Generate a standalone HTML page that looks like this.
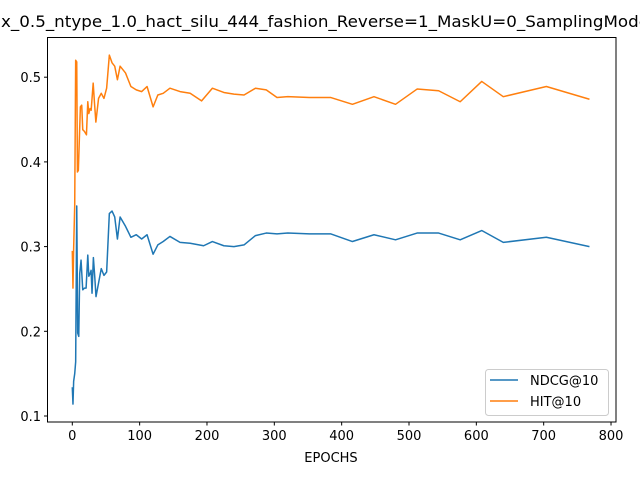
<!DOCTYPE html>
<html><head><meta charset="utf-8"><style>
html,body{margin:0;padding:0;background:#fff;}
svg{display:block;font-family:"DejaVu Sans","Liberation Sans",sans-serif;}
</style></head><body>
<svg id="chart" width="640" height="480" viewBox="0 0 640 480" xmlns="http://www.w3.org/2000/svg">
<rect width="640" height="480" fill="#fff"/>
<text x="1" y="27" font-size="16" textLength="648" lengthAdjust="spacingAndGlyphs">x_0.5_ntype_1.0_hact_silu_444_fashion_Reverse=1_MaskU=0_SamplingMode</text>
<g id="plot"></g>
<rect x="47.5" y="37.5" width="568.5" height="384.5" fill="none" stroke="#000" stroke-width="1"/>
<g id="xticks"></g><g id="yticks"></g>
<text x="331" y="462" font-size="13" text-anchor="middle">EPOCHS</text>
<g>
<rect x="485.5" y="369.5" width="123" height="46" rx="3" fill="#fff" fill-opacity="0.8" stroke="#ccc"/>
<g><line x1="490" y1="380" x2="518" y2="380" stroke="#1f77b4" stroke-width="1.5"/><text x="530" y="385" font-size="13">NDCG@10</text></g>
<g><line x1="490" y1="401" x2="518" y2="401" stroke="#ff7f0e" stroke-width="1.5"/><text x="530" y="406" font-size="13">HIT@10</text></g>
</g>
</svg>
<script>
const ndcgEpochs=[0,1,2,3.6,5,6.6,8,9.6,11,13,15.5,18,20.5,23,24.5,26.4,27.9,29.3,31.3,33.3,35.2,39,43,47,51,55,59,63,67,71,79,87,95,103,111,120,127,135,145,160,175,195,208,225,240,255,272,288,304,320,352,384,416,448,480,512,544,576,608,640,704,768];
const ndcgValues=[0.134,0.114,0.141,0.150,0.164,0.348,0.198,0.194,0.268,0.284,0.249,0.251,0.251,0.290,0.265,0.268,0.272,0.245,0.287,0.265,0.241,0.257,0.274,0.266,0.270,0.339,0.342,0.335,0.309,0.335,0.324,0.311,0.314,0.309,0.314,0.291,0.302,0.306,0.312,0.305,0.304,0.301,0.306,0.301,0.300,0.302,0.313,0.316,0.315,0.316,0.315,0.315,0.306,0.314,0.308,0.316,0.316,0.308,0.319,0.305,0.311,0.300];
const hitEpochs=[0,1,2,3.6,5,6.6,7.6,9,12,14,15.5,18,21,23,24.5,26.4,28,31,33,35,39,43,47,51,55,59,63,67,71,79,87,95,103,111,120,127,135,145,160,175,192,208,225,240,255,272,288,304,320,352,384,416,448,480,512,544,576,608,640,704,768];
const hitValues=[0.295,0.251,0.298,0.349,0.520,0.518,0.388,0.390,0.465,0.467,0.438,0.436,0.432,0.471,0.457,0.463,0.461,0.493,0.469,0.447,0.475,0.481,0.475,0.487,0.526,0.517,0.513,0.497,0.513,0.505,0.489,0.485,0.483,0.489,0.465,0.479,0.481,0.487,0.483,0.481,0.472,0.487,0.482,0.480,0.479,0.487,0.485,0.476,0.477,0.476,0.476,0.468,0.477,0.468,0.486,0.484,0.471,0.495,0.477,0.489,0.474];
const xTickLabels=["0","100","200","300","400","500","600","700","800"];
const yTickLabels=["0.1","0.2","0.3","0.4","0.5"];
const NS="http://www.w3.org/2000/svg";
function xs(e){return 72.3+e*0.6734;}
function ys(v){return 416-(v-0.1)*847;}
function mk(t,a,p){const el=document.createElementNS(NS,t);for(const k in a)el.setAttribute(k,a[k]);p.appendChild(el);return el;}
const plot=document.getElementById('plot');
function line(ep,val,col,name){
  const d=ep.map((e,i)=>(i?'L':'M')+xs(e).toFixed(2)+' '+ys(val[i]).toFixed(2)).join(' ');
  const p=mk('path',{d:d,fill:'none',stroke:col,'stroke-width':1.5,'stroke-linejoin':'round'},plot);
  
  
}
line(ndcgEpochs,ndcgValues,'#1f77b4','ndcg-line');
line(hitEpochs,hitValues,'#ff7f0e','hit-line');
const xt=document.getElementById('xticks');
xTickLabels.forEach(l=>{const x=xs(parseFloat(l));
  mk('line',{x1:x,y1:422,x2:x,y2:425.5,stroke:'#000'},xt);
  const t=mk('text',{x:x,y:440,'font-size':13,'text-anchor':'middle'},xt);t.textContent=l;
  
  });
const yt=document.getElementById('yticks');
yTickLabels.forEach(l=>{const y=ys(parseFloat(l));
  mk('line',{x1:44,y1:y,x2:47.5,y2:y,stroke:'#000'},yt);
  const t=mk('text',{x:41,y:y+5,'font-size':13,'text-anchor':'end'},yt);t.textContent=l;
  
  });
</script>
</body></html>
